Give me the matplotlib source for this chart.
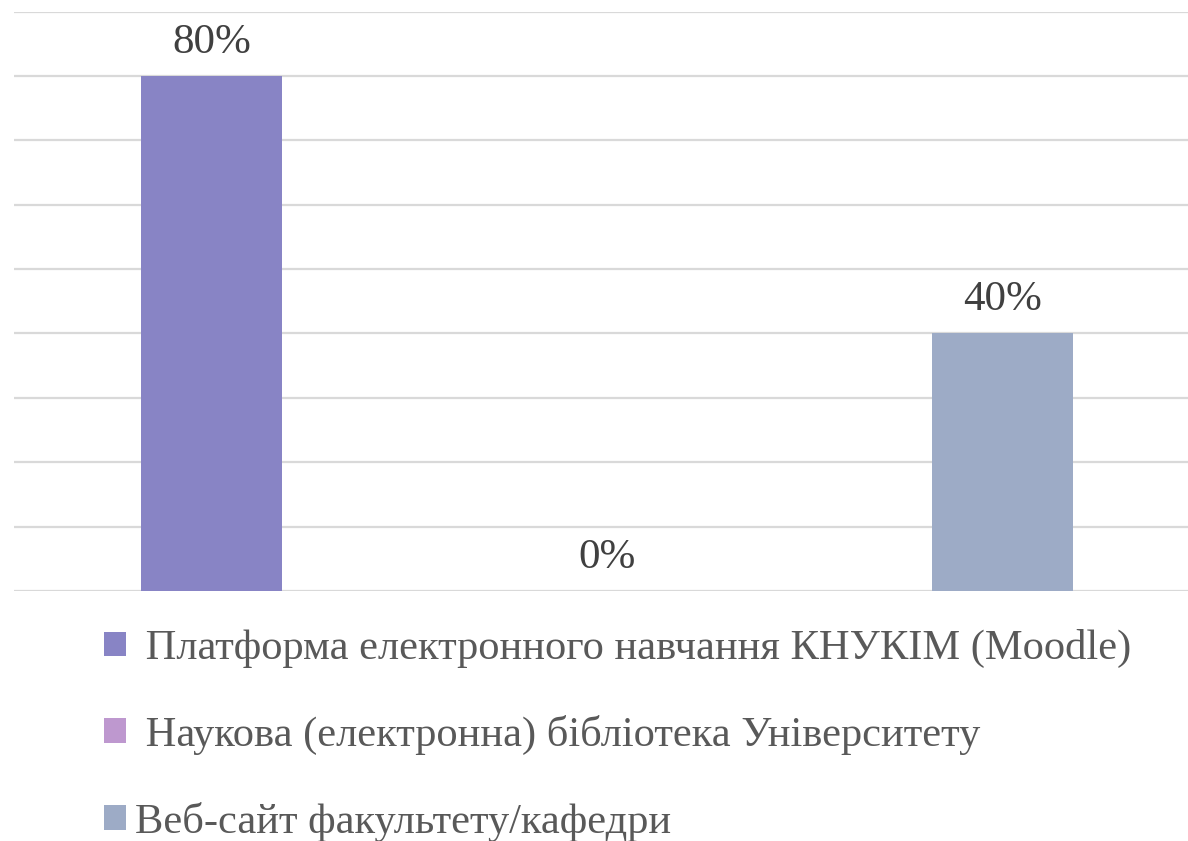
import matplotlib.pyplot as plt
from matplotlib.patches import Patch

categories = [' Платформа електронного навчання КНУКІМ (Moodle)',
              ' Наукова (електронна) бібліотека Університету',
              'Веб-сайт факультету/кафедри']
values = [80, 0, 40]
value_labels = ['80%', '0%', '40%']
colors = ['#8884C5', '#BE98CF', '#9DABC6']

plt.rcParams['font.family'] = ['Liberation Serif', 'DejaVu Serif']

fig = plt.figure(figsize=(11.88, 8.41), dpi=100)
ax = fig.add_axes([14/1188, 250/841, 1186/1188, 579.4/841])

x = range(len(categories))
bars = ax.bar(x, values, width=0.357, color=colors, zorder=2)
for b, lab in zip(bars, value_labels):
    ax.text(b.get_x() + b.get_width()/2, b.get_height() + 2.2, lab,
            ha='center', va='bottom', fontsize=31, color='#404040')

ax.set_xlim(-0.5, 2.5)
ax.set_ylim(0, 90)
ax.set_yticks(range(0, 91, 10))
ax.yaxis.grid(True, color='#D9D9D9', linewidth=1.6, zorder=0)
ax.set_xticks([])
ax.tick_params(left=False, labelleft=False)
for s in ax.spines.values():
    s.set_visible(False)

handles = [Patch(facecolor=c) for c in colors]
fig.legend(handles, categories, loc='upper left', bbox_to_anchor=(104/1188, 1 - 629/841),
           frameon=False, fontsize=30.6, labelcolor='#595959',
           handlelength=0.52, handleheight=0.52, handletextpad=0.2,
           labelspacing=1.1, borderaxespad=0, borderpad=0)

fig.savefig('out.png', dpi=100)
